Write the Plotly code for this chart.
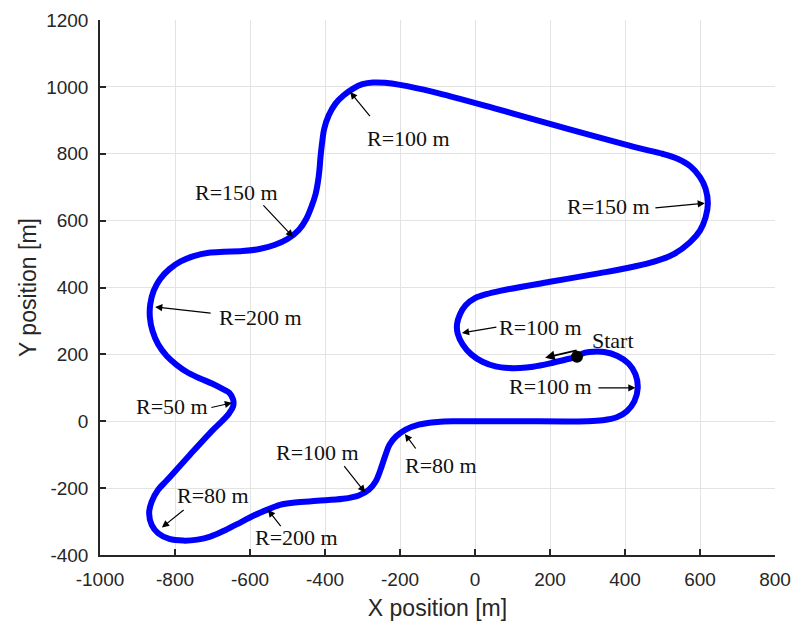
import plotly.graph_objects as go

# Track path (m), starting at the "Start" point, travelling west
track_x = [272, 240, 200, 155, 120, 90, 55, 20, -10, -33, -46, -48, -40, -25, 0, 30, 67,
           200, 333, 422, 480, 530, 573, 600, 615, 621, 615, 600, 575, 540, 500, 440,
           245, 67, -112, -200, -240, -272, -300, -325, -350, -372, -390, -402, -408, -412,
           -415, -419, -425, -435, -450, -470, -500, -535, -575, -620, -670, -710, -750, -785,
           -815, -840, -857, -866, -867, -860, -845, -822, -795, -765, -733, -700, -672, -655,
           -645, -645, -655, -675, -698, -760, -821, -845, -862, -869, -862, -845, -815, -778,
           -740, -706, -665, -626, -590, -555, -520, -480, -421, -352, -310, -283, -265, -252,
           -240, -228, -210, -185, -150, -100, -50, 100, 300, 340, 378, 405, 425, 434, 428, 410,
           380, 345, 305, 285, 272]
track_y = [193, 184, 173, 163, 159, 159, 164, 178, 200, 230, 262, 290, 320, 347, 368, 380, 390,
           417, 443, 462, 478, 500, 535, 570, 610, 652, 695, 730, 762, 785, 800, 816,
           875, 931, 985, 1006, 1012, 1013, 1008, 995, 975, 950, 915, 875, 830, 790,
           750, 715, 680, 645, 605, 572, 545, 527, 515, 509, 507, 504, 494, 478,
           455, 425, 390, 350, 310, 270, 230, 195, 168, 145, 128, 112, 96, 85,
           65, 45, 25, 0, -25, -100, -176, -205, -240, -275, -310, -335, -352, -357,
           -354, -345, -325, -303, -282, -265, -250, -243, -238, -232, -222, -205, -180, -145,
           -105, -70, -45, -25, -10, -2, 0, 0, 0, 3, 12, 30, 60, 100, 140, 172,
           195, 207, 207, 202, 193]

start_x = [272]
start_y = [193]

# Radius labels
label_text = ["R=100 m", "R=150 m", "R=150 m", "R=200 m", "R=100 m", "R=100 m",
              "R=80 m", "R=100 m", "R=50 m", "R=80 m", "R=200 m"]
label_x = [-177, -635, 357, -573, 174, 200, -90, -419, -809, -699, -475]
label_y = [847, 684, 642, 310, 279, 103, -131, -92, 44, -222, -349]
arrow_tail_x = [-277, -568, 477, -701, 61, 325, -155, -352, -707, -773, -515]
arrow_tail_y = [908, 650, 638, 323, 282, 100, -86, -130, 40, -262, -318]
arrow_tip_x = [-333, -485, 613, -853, -35, 428, -187, -293, -648, -835, -552]
arrow_tip_y = [985, 551, 652, 342, 264, 100, -38, -213, 55, -318, -265]

start_label = "Start"
start_label_x = [368]
start_label_y = [241]
start_arrow_tail = (275, 213)
start_arrow_tip = (187, 190)

x_ticks = [-1000, -800, -600, -400, -200, 0, 200, 400, 600, 800]
y_ticks = [-400, -200, 0, 200, 400, 600, 800, 1000, 1200]

fig = go.Figure()
fig.add_trace(go.Scatter(x=track_x, y=track_y, mode="lines",
                         line=dict(color="#0000FF", width=6, shape="spline", smoothing=1.0),
                         hoverinfo="skip"))
fig.add_trace(go.Scatter(x=start_x, y=start_y, mode="markers",
                         marker=dict(color="black", size=12), hoverinfo="skip"))

serif = dict(family="Liberation Serif, Times New Roman, serif", size=22, color="#111111")
anns = []
for t, lx, ly, tx, ty, px, py in zip(label_text, label_x, label_y, arrow_tail_x, arrow_tail_y,
                                     arrow_tip_x, arrow_tip_y):
    anns.append(dict(x=px, y=py, ax=tx, ay=ty, xref="x", yref="y", axref="x", ayref="y",
                     text="", showarrow=True, arrowhead=2, arrowsize=1.2, arrowwidth=1.2,
                     arrowcolor="black"))
    anns.append(dict(x=lx, y=ly, xref="x", yref="y", text=t, showarrow=False, font=serif))
anns.append(dict(x=start_arrow_tip[0], y=start_arrow_tip[1], ax=start_arrow_tail[0], ay=start_arrow_tail[1],
                 xref="x", yref="y", axref="x", ayref="y", text="", showarrow=True, arrowhead=2,
                 arrowsize=1.2, arrowwidth=1.6, arrowcolor="black"))
anns.append(dict(x=start_label_x[0], y=start_label_y[0], xref="x", yref="y", text=start_label,
                 showarrow=False, font=serif))

sans = "Liberation Sans, Arial, Helvetica, sans-serif"
fig.update_layout(
    width=793, height=621,
    margin=dict(l=100, r=18, t=20, b=66),
    paper_bgcolor="white", plot_bgcolor="white",
    showlegend=False,
    annotations=anns,
    font=dict(family=sans, size=19, color="#262626"),
)
fig.update_xaxes(range=[-1000, 800], tickvals=x_ticks, ticktext=[str(v) for v in x_ticks],
                 automargin=False,
                 showgrid=True, gridcolor="#E3E3E3", gridwidth=1, zeroline=False,
                 showline=True, linecolor="#262626", linewidth=1.5,
                 ticks="inside", ticklen=6, tickcolor="#262626", tickwidth=1.5,
                 ticklabelstandoff=6,
                 title=dict(text="X position [m]", font=dict(size=23, family=sans, color="#262626"), standoff=11),
                 tickfont=dict(size=19, family=sans, color="#262626"))
fig.update_yaxes(range=[-400, 1200], tickvals=y_ticks, ticktext=[str(v) for v in y_ticks],
                 automargin=False,
                 showgrid=True, gridcolor="#E3E3E3", gridwidth=1, zeroline=False,
                 showline=True, linecolor="#262626", linewidth=1.5,
                 ticks="inside", ticklen=6, tickcolor="#262626", tickwidth=1.5,
                 ticklabelstandoff=6,
                 title=dict(text="Y position [m]", font=dict(size=23, family=sans, color="#262626"), standoff=3),
                 tickfont=dict(size=19, family=sans, color="#262626"))

fig.write_html("out.html", config={"displayModeBar": False},
               post_script="document.body.style.margin='0';document.body.style.overflow='hidden';")
